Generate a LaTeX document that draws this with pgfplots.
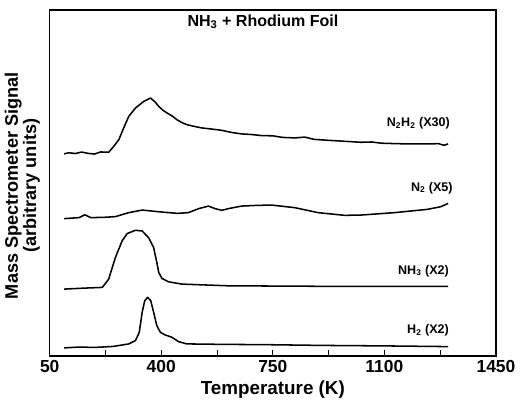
\documentclass[border=0pt]{standalone}
\usepackage{fontspec}
\setmainfont{Liberation Sans}
\usepackage{pgfplots}
\pgfplotsset{compat=1.18}

\begin{document}
\begin{tikzpicture}
\begin{axis}[
    scale only axis,
    width=320pt, height=248pt,
    xmin=50, xmax=1450, ymin=-6, ymax=341,
    xtick={50,400,750,1100,1450},
    minor xtick={225,575,925,1275},
    xticklabels={50,400,750,1100,1450},
    ytick=\empty,
    tick pos=bottom, tick align=inside,
    major tick length=4pt, minor tick length=4pt,
    every tick/.style={black, line width=0.8pt},
    axis line style={line width=1.1pt},
    ticklabel style={font=\fontsize{12.5}{14}\selectfont\bfseries},
    xlabel={Temperature (K)},
    ylabel={Mass Spectrometer Signal\\(arbitrary units)},
    label style={font=\fontsize{13.5}{12}\selectfont\bfseries},
    ylabel style={align=center, font=\fontsize{13}{12}\selectfont\bfseries, yshift=3.5pt, xshift=-2pt},
    xlabel style={yshift=1.5pt},
    clip=false,
]
% H2 (X2)
\addplot[black, mark=none, line width=1.1pt, line join=round] coordinates {(95,2) (140,2.8) (194,2.5) (250,3.5) (298,6) (319,9.3) (331,17.7)
 (340,37.7) (348,49.3) (357,52.7) (367,49.3) (376,37.7) (386,24.3) (397,17.7)
 (412,15) (433,12.7) (454,8.3) (480,6) (600,5.5) (715,5.3) (900,4.5) (1100,4) (1300,3.3)};
% NH3 (X2)
\addplot[black, mark=none, line width=1.1pt, line join=round] coordinates {(95,61) (160,62) (215,62.7) (235,71) (256,92.7) (277,109.3)
 (293,116.7) (319,120) (340,119.3) (360,112.7) (376,102.7) (386,87.7) (392,77.7)
 (402,71.7) (423,68.3) (465,66) (610,64.3) (900,63.8) (1300,63.7)};
% N2 (X5)
\addplot[black, mark=none, line width=1.1pt, line join=round] coordinates {(95,131.7) (142,132.7) (160,135.5) (179,132.7) (220,133) (256,133.7)
 (298,137.7) (340,140.3) (402,138.3) (450,137) (485,137.7) (517,141.7) (548,144.3)
 (569,141.7) (590,140) (610,141.7) (652,144.3) (700,145) (746,145.3) (819,142.7)
 (892,137.7) (975,135) (1027,135.3) (1131,137.7) (1235,141) (1277,143.7) (1300,147)};
% N2H2 (X30)
\addplot[black, mark=none, line width=1.1pt, line join=round] coordinates {(95,196.7) (110,197.8) (130,197) (150,198.5) (170,197.2) (190,196.5)
 (210,198.6) (235,198.3) (251,204.3) (267,211) (282,222.7) (298,234.3) (319,242.7)
 (345,249.3) (366,252.7) (380,249) (392,244.3) (405,240.5) (418,237.7) (435,234.5) (449,231)
 (465,228) (480,226) (500,224.5) (527,222.7) (560,221.5) (590,220.3) (620,218.2)
 (652,216.7) (680,216.2) (715,215) (750,214.8) (780,213.2) (819,212.7) (850,213.5)
 (880,211.2) (923,210.3) (960,209.6) (990,209) (1027,208.3) (1060,208.6) (1090,207.4)
 (1131,207) (1180,206.6) (1235,206.7) (1270,206.9) (1287,205.3) (1300,206.7)};
\node[font=\fontsize{11.5}{14}\selectfont\bfseries, anchor=base, inner sep=0pt]
  at (axis cs:719,324.5) {NH\textsubscript{3} + Rhodium Foil};
\begin{scope}[every node/.style={font=\fontsize{9}{10}\selectfont\bfseries, anchor=base east, inner sep=0pt}]
\node at (axis cs:1306,224) {N\textsubscript{2}H\textsubscript{2} (X30)};
\node at (axis cs:1315,159) {N\textsubscript{2} (X5)};
\node at (axis cs:1303,76) {NH\textsubscript{3} (X2)};
\node at (axis cs:1303,16) {H\textsubscript{2} (X2)};
\end{scope}
\path (rel axis cs:1,1) ++(13.9pt,7.2pt);
\end{axis}
\end{tikzpicture}
\end{document}
